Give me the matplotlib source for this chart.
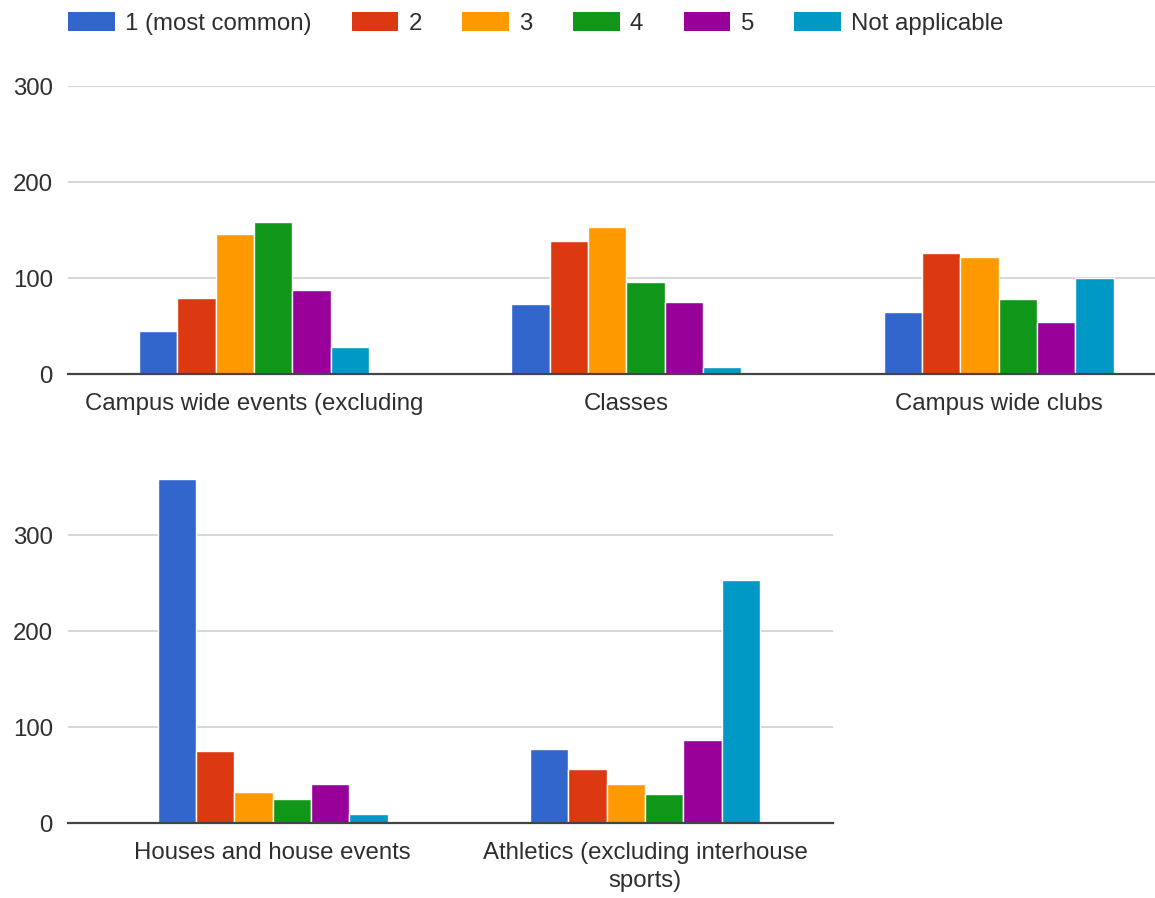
import matplotlib
matplotlib.use("Agg")
import matplotlib.pyplot as plt
import numpy as np
from matplotlib.patches import Patch

plt.rcParams["font.family"] = ["Liberation Sans", "DejaVu Sans"]

series = ["1 (most common)", "2", "3", "4", "5", "Not applicable"]
colors = ["#3366cc", "#dc3912", "#ff9900", "#109618", "#990099", "#0099c6"]

top_categories = ["Campus wide events (excluding", "Classes", "Campus wide clubs"]
top_values = [
    [45, 73, 65],     # 1 (most common)
    [79, 139, 126],   # 2
    [146, 153, 122],  # 3
    [158, 96, 78],    # 4
    [88, 75, 54],     # 5
    [28, 7, 100],     # Not applicable
]

bottom_categories = ["Houses and house events", "Athletics (excluding interhouse\nsports)"]
bottom_values = [
    [359, 77],
    [75, 56],
    [32, 41],
    [25, 30],
    [41, 87],
    [9, 253],
]

text_color = "#2e2e2e"
font_size = 17.3
bar_w = 0.103


def draw_panel(ax, categories, values, ylim, xlim):
    x = np.arange(len(categories))
    for i, (vals, c) in enumerate(zip(values, colors)):
        offs = (i - (len(values) - 1) / 2) * bar_w
        ax.bar(x + offs, vals, width=bar_w, color=c, edgecolor="white",
               linewidth=1.0, zorder=3)
    ax.set_xlim(*xlim)
    ax.set_ylim(*ylim)
    ax.set_yticks([0, 100, 200, 300])
    ax.set_xticks(x)
    ax.set_xticklabels(categories, fontsize=font_size, color=text_color,
                       linespacing=1.3)
    ax.tick_params(axis="both", length=0, labelsize=font_size,
                   labelcolor=text_color)
    ax.tick_params(axis="y", pad=11)
    ax.tick_params(axis="x", pad=14)
    ax.grid(axis="y", color="#d0d0d0", linewidth=1.2, zorder=0)
    for side in ("top", "right", "left"):
        ax.spines[side].set_visible(False)
    ax.spines["bottom"].set_color("#444444")
    ax.spines["bottom"].set_linewidth(1.6)
    ax.spines["bottom"].set_zorder(4)


fig = plt.figure(figsize=(11.55, 8.98), dpi=100)

ax_top = fig.add_axes([0.0589, 0.5835, 0.9411, 0.3207])
draw_panel(ax_top, top_categories, top_values, (0, 300), (-0.5, 2.42))

ax_bot = fig.add_axes([0.0589, 0.0835, 0.6623, 0.393])
draw_panel(ax_bot, bottom_categories, bottom_values, (0, 368), (-0.55, 1.505))

# legend row across the top of the figure
handles = [Patch(facecolor=c, edgecolor="none") for c in colors]
fig.legend(handles, series, loc="upper left", bbox_to_anchor=(0.04, 1.011),
           ncol=6, frameon=False, fontsize=font_size, labelcolor=text_color,
           handlelength=1.95, handleheight=0.85, handletextpad=0.42,
           columnspacing=1.68)

fig.savefig("out.png", dpi=100, facecolor="white")
